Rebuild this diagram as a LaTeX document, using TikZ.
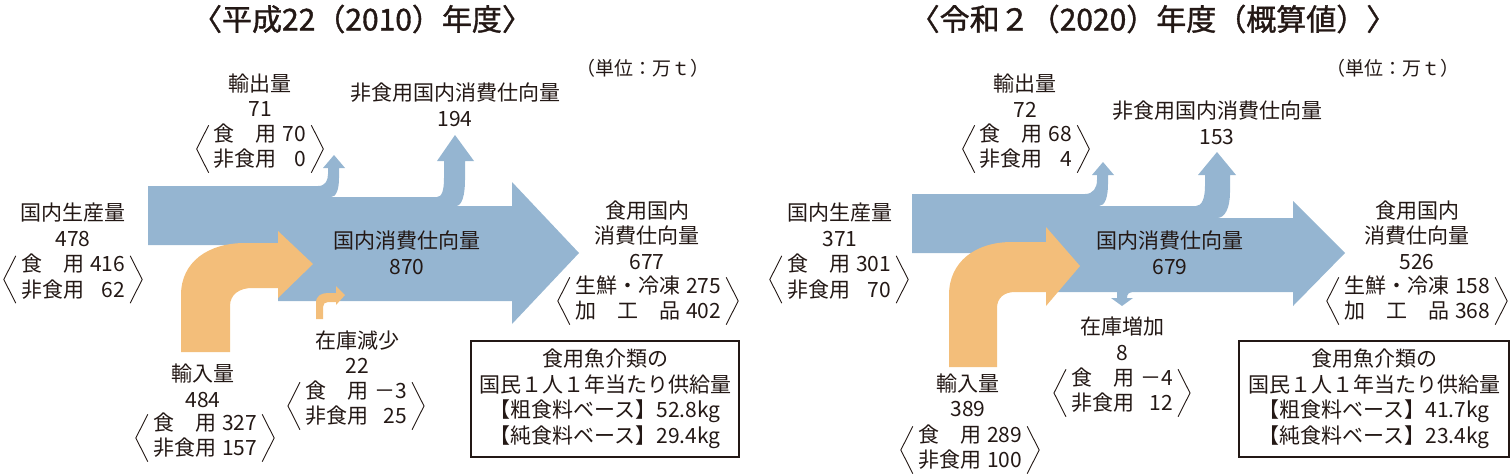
\documentclass[tikz,border=0pt]{standalone}
\usepackage{fontspec}
\setmainfont{Noto Sans CJK JP}
\usetikzlibrary{calc}

\newlength{\du}
\setlength{\du}{1pt}

\tikzset{
  moji/.style={inner sep=0pt, align=center, text=sumi, font=\fontsize{21}{25.5}\selectfont},
  midashi/.style={inner sep=0pt, text=sumi, font=\fontsize{30}{34}\selectfont\addfontfeatures{FakeBold=1.2}},
  tani/.style={inner sep=0pt, text=sumi, font=\fontsize{19}{22}\selectfont},
  kakko/.style={draw=sumi, line width=0.9\du},
  waku/.style={moji, draw=sumi, line width=1.2\du, minimum height=116\du},
  aoi/.style={fill=nagareao},
  daidai/.style={fill=nagareki}
}

% two-line breakdown: label & value
\newcommand{\uw}[4]{\begin{tabular}{@{}l@{\hspace{6\du}}r@{}}#1&#2\\#3&#4\end{tabular}}
% tall angle brackets round a breakdown node
\newcommand{\kakko}[1]{%
  \draw[kakko] ($(#1.north west)+(-5\du,2\du)$)--($(#1.west)+(-17\du,0\du)$)--($(#1.south west)+(-5\du,-2\du)$);
  \draw[kakko] ($(#1.north east)+(5\du,2\du)$)--($(#1.east)+(17\du,0\du)$)--($(#1.south east)+(5\du,-2\du)$);}

\begin{document}
\begin{tikzpicture}
\pgftransformxscale{1.000000}
\pgftransformyscale{-1.000000}
\definecolor{sumi}{rgb}{0.137, 0.094, 0.082}
\definecolor{nagareao}{rgb}{0.584, 0.710, 0.820}
\definecolor{nagareki}{rgb}{0.953, 0.745, 0.478}
\useasboundingbox (0\du,0\du) rectangle (1510\du,474\du);

% H22 (2010)
\fill[aoi] (148\du,186\du)--(318\du,186\du) .. controls (325\du,186\du) and (328\du,181\du) .. (328\du,174\du)
  --(328\du,168\du)--(323\du,168\du)--(334\du,155\du)--(345\du,168\du)--(339\du,168\du)--(339\du,178\du)
  .. controls (339\du,190\du) and (336\du,197\du) .. (331\du,197\du)--(437\du,197\du)
  .. controls (442\du,197\du) and (444\du,190\du) .. (444\du,178\du)--(444\du,161\du)--(437\du,161\du)
  --(455\du,135\du)--(474\du,161\du)--(465\du,161\du)--(465\du,180\du)
  .. controls (465\du,195\du) and (462\du,206\du) .. (456\du,206\du)--(512\du,206\du)--(512\du,182\du)
  --(579\du,253\du)--(512\du,324\du)--(512\du,301\du)--(278\du,301\du)--(278\du,245\du)--(148\du,245\du)--cycle;
\fill[daidai] (181\du,352\du)--(181\du,295\du) .. controls (181\du,262\du) and (208\du,243\du) .. (245\du,243\du)
  --(278\du,243\du)--(278\du,231\du)--(313\du,264\du)--(278\du,298\du)--(278\du,288\du)--(252\du,288\du)
  .. controls (240\du,288\du) and (230\du,294\du) .. (230\du,306\du)--(230\du,352\du)--cycle;
\fill[daidai] (316\du,319\du)--(316\du,303\du) .. controls (316\du,296\du) and (321\du,293\du) .. (328\du,293\du)
  --(336\du,293\du)--(336\du,286\du)--(345\du,295\du)--(336\du,305\du)--(336\du,302\du)--(328\du,302\du)
  .. controls (325\du,302\du) and (323\du,304\du) .. (323\du,307\du)--(323\du,319\du)--cycle;

\node[midashi] (hTitle) at (362\du,19\du) {〈平成22（2010）年度〉};
\node[tani] (hUnit) at (643\du,68\du) {（単位：万ｔ）};
\node[moji] (hExp) at (260\du,95\du) {輸出量\\71};
\node[moji] (hExpDet) at (260\du,149\du) {\uw{食　用}{70}{非食用}{0}};
\node[moji] (hNon) at (455\du,105\du) {非食用国内消費仕向量\\194};
\node[moji] (hProd) at (73\du,225\du) {国内生産量\\478};
\node[moji] (hProdDet) at (73\du,279.5\du) {\uw{食　用}{416}{非食用}{62}};
\node[moji] (hCons) at (407\du,253\du) {国内消費仕向量\\870};
\node[moji] (hFood) at (647\du,235\du) {食用国内\\消費仕向量\\677};
\node[moji] (hFoodDet) at (648\du,301\du) {\uw{生鮮・冷凍}{275}{加　工　品}{402}};
\node[moji] (hStock) at (357\du,352\du) {在庫減少\\22};
\node[moji] (hStockDet) at (356\du,406\du) {\uw{食　用}{－3}{非食用}{25}};
\node[moji] (hImp) at (203\du,386\du) {輸入量\\484};
\node[moji] (hImpDet) at (205\du,438\du) {\uw{食　用}{327}{非食用}{157}};
\node[waku, minimum width=268\du] (hBox) at (605\du,399\du)
  {食用魚介類の\\国民１人１年当たり供給量\\【粗食料ベース】52.8kg\\【純食料ベース】29.4kg};
\kakko{hExpDet}
\kakko{hProdDet}
\kakko{hFoodDet}
\kakko{hStockDet}
\kakko{hImpDet}

% R2 (2020)
\fill[aoi] (912\du,194\du)--(1085\du,194\du) .. controls (1093\du,194\du) and (1097\du,188\du) .. (1097\du,180\du)
  --(1097\du,175\du)--(1092\du,175\du)--(1103\du,162\du)--(1114\du,175\du)--(1108\du,175\du)--(1108\du,184\du)
  .. controls (1108\du,197\du) and (1105\du,206\du) .. (1099\du,206\du)--(1196\du,206\du)
  .. controls (1202\du,206\du) and (1205\du,198\du) .. (1205\du,186\du)--(1205\du,175\du)--(1198\du,175\du)
  --(1217\du,152\du)--(1236\du,175\du)--(1230\du,175\du)--(1230\du,192\du)
  .. controls (1230\du,208\du) and (1225\du,218\du) .. (1217\du,218\du)--(1293\du,218\du)--(1293\du,201\du)
  --(1345\du,253\du)--(1293\du,306\du)--(1293\du,292\du)--(1134\du,292\du)
  .. controls (1129\du,292\du) and (1127\du,294\du) .. (1127\du,298\du)--(1133\du,298\du)--(1122\du,306\du)
  --(1111\du,298\du)--(1117\du,298\du)--(1117\du,292\du)--(1046\du,292\du)--(1046\du,253\du)--(912\du,253\du)--cycle;
\fill[daidai] (949\du,367\du)--(949\du,295\du) .. controls (949\du,262\du) and (975\du,242\du) .. (1012\du,242\du)
  --(1046\du,242\du)--(1046\du,227\du)--(1080\du,266\du)--(1046\du,306\du)--(1046\du,292\du)--(1015\du,292\du)
  .. controls (1004\du,292\du) and (997\du,298\du) .. (997\du,308\du)--(997\du,367\du)--cycle;

\node[midashi] (rTitle) at (1153\du,19\du) {〈令和２（2020）年度（概算値）〉};
\node[tani] (rUnit) at (1393\du,68\du) {（単位：万ｔ）};
\node[moji] (rExp) at (1025\du,95.5\du) {輸出量\\72};
\node[moji] (rExpDet) at (1026\du,149\du) {\uw{食　用}{68}{非食用}{4}};
\node[moji] (rNon) at (1217\du,123\du) {非食用国内消費仕向量\\153};
\node[moji] (rProd) at (840\du,225\du) {国内生産量\\371};
\node[moji] (rProdDet) at (839\du,279.5\du) {\uw{食　用}{301}{非食用}{70}};
\node[moji] (rCons) at (1170\du,253\du) {国内消費仕向量\\679};
\node[moji] (rFood) at (1417\du,235\du) {食用国内\\消費仕向量\\526};
\node[moji] (rFoodDet) at (1417\du,301\du) {\uw{生鮮・冷凍}{158}{加　工　品}{368}};
\node[moji] (rStock) at (1122\du,339\du) {在庫増加\\8};
\node[moji] (rStockDet) at (1122\du,393\du) {\uw{食　用}{－4}{非食用}{12}};
\node[moji] (rImp) at (968\du,395.5\du) {輸入量\\389};
\node[moji] (rImpDet) at (970\du,450\du) {\uw{食　用}{289}{非食用}{100}};
\node[waku, minimum width=270\du] (rBox) at (1374\du,399\du)
  {食用魚介類の\\国民１人１年当たり供給量\\【粗食料ベース】41.7kg\\【純食料ベース】23.4kg};
\kakko{rExpDet}
\kakko{rProdDet}
\kakko{rFoodDet}
\kakko{rStockDet}
\kakko{rImpDet}
\end{tikzpicture}
\end{document}
